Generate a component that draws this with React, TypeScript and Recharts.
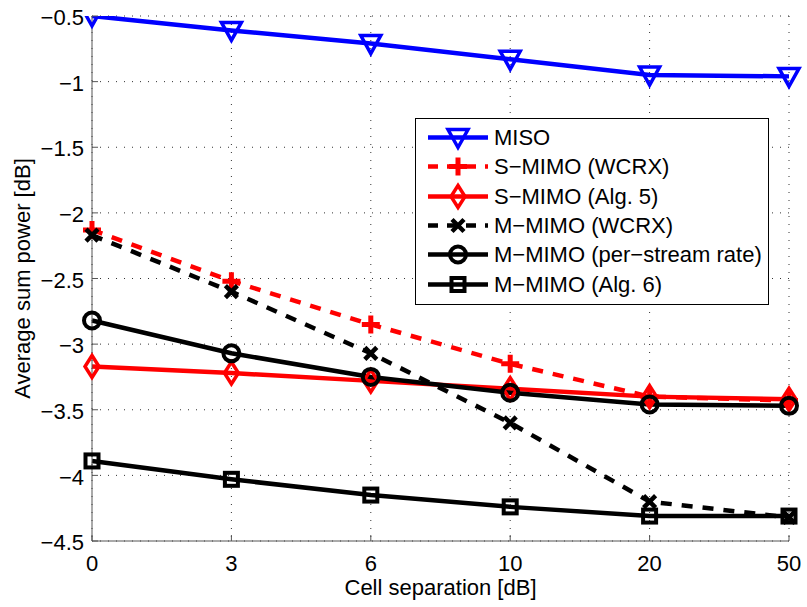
import { LineChart, Line, XAxis, YAxis, CartesianGrid, Legend, Label } from "recharts";

const separations = ["0", "3", "6", "10", "20", "50"];
const yTicks = [-4.5, -4, -3.5, -3, -2.5, -2, -1.5, -1, -0.5];

const miso = [-0.5, -0.61, -0.71, -0.83, -0.95, -0.96];
const sMimoWcrx = [-2.13, -2.52, -2.85, -3.15, -3.4, -3.43];
const sMimoAlg5 = [-3.17, -3.22, -3.28, -3.34, -3.4, -3.42];
const mMimoWcrx = [-2.17, -2.6, -3.07, -3.6, -4.2, -4.32];
const mMimoPerStream = [-2.82, -3.07, -3.25, -3.37, -3.46, -3.47];
const mMimoAlg6 = [-3.89, -4.03, -4.15, -4.24, -4.31, -4.31];

const FONT = "'Liberation Sans', Arial, Helvetica, sans-serif";

type MarkerKind = "triangleDown" | "plus" | "diamond" | "cross" | "circle" | "square";

interface SeriesDef {
  key: string;
  name: string;
  color: string;
  dash?: string;
  marker: MarkerKind;
}

const series: SeriesDef[] = [
  { key: "miso", name: "MISO", color: "#0000ff", marker: "triangleDown" },
  { key: "sWcrx", name: "S\u2212MIMO (WCRX)", color: "#ff0000", dash: "11 10", marker: "plus" },
  { key: "sAlg5", name: "S\u2212MIMO (Alg. 5)", color: "#ff0000", marker: "diamond" },
  { key: "mWcrx", name: "M\u2212MIMO (WCRX)", color: "#000000", dash: "11 10", marker: "cross" },
  { key: "mPerStream", name: "M\u2212MIMO (per\u2212stream rate)", color: "#000000", marker: "circle" },
  { key: "mAlg6", name: "M\u2212MIMO (Alg. 6)", color: "#000000", marker: "square" },
];

const data = separations.map((sep, i) => ({
  sep,
  miso: miso[i],
  sWcrx: sMimoWcrx[i],
  sAlg5: sMimoAlg5[i],
  mWcrx: mMimoWcrx[i],
  mPerStream: mMimoPerStream[i],
  mAlg6: mMimoAlg6[i],
}));

function MarkerShape({ kind, cx, cy, color }: { kind: MarkerKind; cx: number; cy: number; color: string }) {
  const open = { fill: "none", stroke: color, strokeWidth: 3.5 };
  switch (kind) {
    case "triangleDown":
      return <polygon points={`${cx - 10},${cy - 8} ${cx + 10},${cy - 8} ${cx},${cy + 10}`} {...open} />;
    case "plus":
      return <path d={`M${cx - 9},${cy}H${cx + 9}M${cx},${cy - 9}V${cy + 9}`} stroke={color} strokeWidth={5} />;
    case "diamond":
      return <polygon points={`${cx},${cy - 11} ${cx + 7},${cy} ${cx},${cy + 11} ${cx - 7},${cy}`} {...open} />;
    case "cross":
      return <path d={`M${cx - 6},${cy - 6}L${cx + 6},${cy + 6}M${cx - 6},${cy + 6}L${cx + 6},${cy - 6}`} stroke={color} strokeWidth={4.5} />;
    case "circle":
      return <circle cx={cx} cy={cy} r={8} {...open} strokeWidth={4} />;
    case "square":
      return <rect x={cx - 6.5} y={cy - 6.5} width={13} height={13} {...open} strokeWidth={4} />;
  }
  return null;
}

const fmt = (v: number) => String(v).replace("-", "\u2212");

function YTick({ x, y, payload }: any) {
  return (
    <g>
      <line x1={x + 8} x2={x + 14} y1={y} y2={y} stroke="#555" />
      <text x={x} y={y} dy="0.42em" textAnchor="end" fontSize={22} fontFamily={FONT} fill="#000">
        {fmt(payload.value)}
      </text>
    </g>
  );
}

function XTick({ x, y, payload }: any) {
  return (
    <g>
      <line x1={x} x2={x} y1={y - 14} y2={y - 20} stroke="#555" />
      <text x={x} y={y} dy="0.71em" textAnchor="middle" fontSize={22} fontFamily={FONT} fill="#000">
        {payload.value}
      </text>
    </g>
  );
}

function LegendBox() {
  return (
    <div
      style={{
        width: 352,
        height: 181,
        border: "1px solid #000",
        background: "#fff",
        paddingTop: 4,
        boxSizing: "content-box",
        fontFamily: FONT,
        fontSize: 22,
      }}
    >
      {series.map((s) => (
        <div key={s.key} style={{ display: "flex", alignItems: "center", height: 29.3 }}>
          <svg width={78} height={29} style={{ flex: "none" }}>
            <line x1={12} x2={72} y1={14.5} y2={14.5} stroke={s.color} strokeWidth={4.5} strokeDasharray={s.dash ? "10 9" : undefined} />
            <MarkerShape kind={s.marker} cx={42} cy={14.5} color={s.color} />
          </svg>
          <span style={{ whiteSpace: "nowrap", lineHeight: "29px" }}>{s.name}</span>
        </div>
      ))}
    </div>
  );
}

export default function App() {
  return (
    <div style={{ position: "absolute", left: 0, top: 0, background: "#fff" }}>
      <LineChart width={807} height={607} data={data} margin={{ top: 16, right: 18, bottom: 0, left: 0 }}>
        <CartesianGrid stroke="#333" strokeDasharray="1 7" />
        <XAxis
          dataKey="sep"
          height={66}
          tick={<XTick />}
          tickLine={false}
          tickSize={0}
          tickMargin={14}
          axisLine={{ stroke: "#555" }}
        >
          <Label value="Cell separation [dB]" position="insideBottom" offset={12} fontSize={22} fontFamily={FONT} fill="#000" />
        </XAxis>
        <YAxis
          width={92}
          domain={[-4.5, -0.5]}
          ticks={yTicks}
          tick={<YTick />}
          tickLine={false}
          tickSize={0}
          tickMargin={8}
          axisLine={{ stroke: "#555" }}
          allowDataOverflow
        >
          <Label
            value="Average sum power [dB]"
            angle={-90}
            position="insideLeft"
            offset={22}
            fontSize={22}
            fontFamily={FONT}
            fill="#000"
            style={{ textAnchor: "middle" }}
          />
        </YAxis>
        <Legend
          layout="vertical"
          align="center"
          verticalAlign="middle"
          content={<LegendBox />}
          wrapperStyle={{ left: 415, top: 118, width: 354 }}
        />
        {series.map((s) => (
          <Line
            key={s.key}
            dataKey={s.key}
            name={s.name}
            stroke={s.color}
            strokeWidth={4.5}
            strokeDasharray={s.dash}
            isAnimationActive={false}
            activeDot={false}
            dot={(p: any) => <MarkerShape key={`${s.key}-${p.index}`} kind={s.marker} cx={p.cx} cy={p.cy} color={s.color} />}
          />
        ))}
      </LineChart>
    </div>
  );
}
